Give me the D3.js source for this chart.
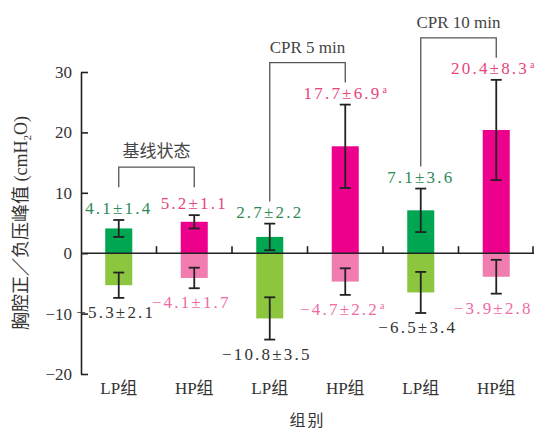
<!DOCTYPE html>
<html>
<head>
<meta charset="utf-8">
<script src="https://cdn.jsdelivr.net/npm/d3@7"></script>
<style>
  body { margin: 0; background: #fff; }
  text { font-family: "Liberation Serif", "Noto Sans CJK SC", serif; }
</style>
</head>
<body>
<svg id="chart" width="536" height="428"></svg>
<script>
// values (cmH2O, mean ± sd)
const groups = ["LP组", "HP组", "LP组", "HP组", "LP组", "HP组"];
const posMean = [4.1, 5.2, 2.7, 17.7, 7.1, 20.4];
const posSD = [1.4, 1.1, 2.2, 6.9, 3.6, 8.3];
const negMean = [-5.3, -4.1, -10.8, -4.7, -6.5, -3.9];
const negSD = [2.1, 1.7, 3.5, 2.2, 3.4, 2.8];
const posSig = ["", "", "", "a", "", "a"];
const negSig = ["", "", "", "a", "", ""];
const stages = ["基线状态", "CPR 5 min", "CPR 10 min"];
const yTicks = [-20, -10, 0, 10, 20, 30];

const width = 536, height = 428;
const margin = {top: 72, right: 2, bottom: 54, left: 81};
const serif = "'Liberation Serif', 'Noto Sans CJK SC', serif";

const svg = d3.select("#chart");

const x = d3.scaleBand()
    .domain(d3.range(groups.length))
    .range([margin.left, width - margin.right])
    .paddingInner(0.642)
    .paddingOuter(0.321);

const y = d3.scaleLinear()
    .domain([-20, 30])
    .range([height - margin.bottom, margin.top]);

const isLP = i => i % 2 === 0;
const fmt = v => String(v).replace("-", "\u2212");

const rows = groups.map((g, i) => ({
    i, g,
    pm: posMean[i], ps: posSD[i], psig: posSig[i],
    nm: negMean[i], ns: negSD[i], nsig: negSig[i]
}));

// bars
svg.append("g").selectAll("rect")
    .data(rows)
    .join("rect")
    .attr("x", d => x(d.i))
    .attr("width", x.bandwidth())
    .attr("y", d => y(d.pm))
    .attr("height", d => y(0) - y(d.pm))
    .attr("fill", d => isLP(d.i) ? "#00a651" : "#ec008c");

svg.append("g").selectAll("rect")
    .data(rows)
    .join("rect")
    .attr("x", d => x(d.i))
    .attr("width", x.bandwidth())
    .attr("y", y(0))
    .attr("height", d => y(d.nm) - y(0))
    .attr("fill", d => isLP(d.i) ? "#8cc63f" : "#f07cb0");

// axes
const yAxis = d3.axisLeft(y)
    .tickValues(yTicks)
    .tickSizeInner(-7)
    .tickSizeOuter(0)
    .tickPadding(9)
    .tickFormat(d => fmt(d));

const gy = svg.append("g")
    .attr("transform", `translate(${margin.left},0)`)
    .call(yAxis);
gy.select(".domain").attr("stroke", "#222").attr("stroke-width", 1.6);
gy.selectAll(".tick line").attr("stroke", "#222").attr("stroke-width", 1.6);
gy.selectAll(".tick text")
    .attr("fill", "#333")
    .style("font-size", "17px")
    .style("font-family", serif);

const gx = svg.append("g");
gx.append("line")
    .attr("x1", margin.left).attr("x2", width - margin.right)
    .attr("y1", y(0)).attr("y2", y(0))
    .attr("stroke", "#222").attr("stroke-width", 1.6);
gx.selectAll("line.tk")
    .data(d3.range(1, groups.length + 1))
    .join("line")
    .attr("class", "tk")
    .attr("x1", k => Math.min(margin.left + k * x.step(), width - margin.right - 1))
    .attr("x2", k => Math.min(margin.left + k * x.step(), width - margin.right - 1))
    .attr("y1", y(0)).attr("y2", y(0) - 7)
    .attr("stroke", "#222").attr("stroke-width", 1.6);

svg.append("g").selectAll("text")
    .data(rows)
    .join("text")
    .attr("x", d => x(d.i) + x.bandwidth() / 2)
    .attr("y", height - margin.bottom + 20)
    .attr("text-anchor", "middle")
    .attr("fill", "#333")
    .style("font-family", serif)
    .style("font-size", "17px")
    .text(d => d.g);

// error bars
const eb = svg.append("g").attr("stroke", "#222").attr("stroke-width", 1.8);
rows.forEach(d => {
    const cx = x(d.i) + x.bandwidth() / 2;
    [[d.pm, d.ps], [d.nm, d.ns]].forEach(([m, s]) => {
        const y1 = y(m - s), y2 = y(m + s);
        eb.append("line").attr("x1", cx).attr("x2", cx).attr("y1", y1).attr("y2", y2);
        eb.append("line").attr("x1", cx - 5.5).attr("x2", cx + 5.5).attr("y1", y1).attr("y2", y1);
        eb.append("line").attr("x1", cx - 5.5).attr("x2", cx + 5.5).attr("y1", y2).attr("y2", y2);
    });
});

// value labels
function valueLabel(d, m, s, sig, pos) {
    const cx = x(d.i) + x.bandwidth() / 2 + (pos ? 0 : -3);
    const t = svg.append("text")
        .attr("x", cx)
        .attr("y", pos ? y(m + s) - 6 : y(m - s) + 20)
        .attr("text-anchor", "middle")
        .style("font-family", serif)
        .style("font-size", "17px")
        .style("letter-spacing", "2.2px")
        .attr("fill", pos ? (isLP(d.i) ? "#2e8a57" : "#e8457b")
                          : (isLP(d.i) ? "#333" : "#f06aa6"));
    t.append("tspan").text(`${fmt(m)}±${s}`);
    if (sig) {
        t.append("tspan")
            .attr("dx", 1).attr("dy", -6)
            .style("font-size", "10px")
            .style("letter-spacing", "0px")
            .text(sig);
    }
    // keep the label inside the picture
    const bb = t.node().getBBox();
    const over = bb.x + bb.width - (width - 1);
    if (over > 0) t.attr("x", cx - over);
    return t;
}
rows.forEach(d => {
    valueLabel(d, d.pm, d.ps, d.psig, true);
    valueLabel(d, d.nm, d.ns, d.nsig, false);
});

// stage brackets
const br = svg.append("g");
stages.forEach((s, k) => {
    const a = 2 * k, b = 2 * k + 1;
    const xa = x(a) + x.bandwidth() / 2, xb = x(b) + x.bandwidth() / 2;
    let ea = y(posMean[a] + posSD[a]) - 22;
    let eb2 = y(posMean[b] + posSD[b]) - 22;
    if (Math.abs(ea - eb2) < 10) { ea = eb2 = Math.min(ea, eb2) - 6; }
    const top = Math.min(ea, eb2) - 20;
    br.append("path")
        .attr("d", `M${xa},${ea}V${top}H${xb}V${eb2}`)
        .attr("fill", "none")
        .attr("stroke", "#555")
        .attr("stroke-width", 1.3);
    br.append("text")
        .attr("x", (xa + xb) / 2)
        .attr("y", top - 10)
        .attr("text-anchor", "middle")
        .attr("fill", "#444")
        .style("font-family", serif)
        .style("font-size", "17px")
        .text(s);
});

// axis titles
svg.append("text")
    .attr("x", (margin.left + width - margin.right) / 2)
    .attr("y", 426)
    .attr("text-anchor", "middle")
    .attr("fill", "#333")
    .style("font-family", serif)
    .style("font-size", "16px")
    .style("letter-spacing", "2px")
    .text("组别");

const yt = svg.append("text")
    .attr("transform", `translate(27,${(y(30) + y(-20)) / 2}) rotate(-90)`)
    .attr("text-anchor", "middle")
    .attr("fill", "#333")
    .style("font-family", serif)
    .style("font-size", "18px");
yt.append("tspan").text("胸腔正／负压峰值 (cmH");
yt.append("tspan").attr("dy", 4).style("font-size", "11px").text("2");
yt.append("tspan").attr("dy", -4).text("O)");
</script>
</body>
</html>
